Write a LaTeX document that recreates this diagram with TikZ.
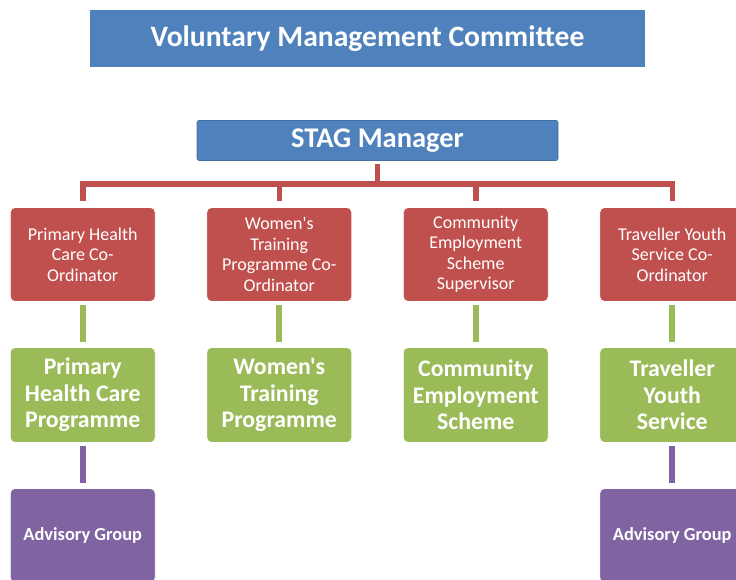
\documentclass[tikz,border=0pt]{standalone}
\usepackage{fontspec}
\setmainfont{Carlito}[Ligatures=TeXOff]
\usetikzlibrary{positioning}
\definecolor{stagblue}{HTML}{4F81BD}
\definecolor{stagred}{HTML}{C0504D}
\definecolor{staggreen}{HTML}{9BBB59}
\definecolor{stagpurple}{HTML}{8064A2}

\begin{document}
\begin{tikzpicture}[x=1pt,y=1pt,
    parent anchor=south,child anchor=north,
    bluebox/.style={fill=stagblue,text=white,inner sep=0pt},
    orgbox/.style={rounded corners=5pt,draw=white,line width=0.6pt,
      minimum width=145pt,text=white,align=center,inner sep=0pt},
    redbox/.style={orgbox,fill=stagred,minimum height=94pt,
      font=\fontsize{18}{20.5}\selectfont},
    greenbox/.style={orgbox,fill=staggreen,minimum height=95pt,
      font=\bfseries\fontsize{23.8}{26.5}\selectfont},
    purplebox/.style={orgbox,fill=stagpurple,minimum height=94pt,
      font=\bfseries\fontsize{18.4}{20}\selectfont},
    level 1/.style={sibling distance=196.5pt,level distance=114pt,
      edge from parent/.style={draw=stagred,line width=5.5pt,
        shorten <=3pt,shorten >=6pt},
      edge from parent path={(\tikzparentnode.south) -- +(0,-23pt)
        -| (\tikzchildnode.north)}},
    level 2/.style={level distance=140.5pt,
      edge from parent/.style={draw=staggreen,line width=6pt,
        shorten <=3pt,shorten >=5pt},
      edge from parent path={(\tikzparentnode.south)
        -- (\tikzchildnode.north)}},
    level 3/.style={level distance=140.5pt,
      edge from parent/.style={draw=stagpurple,line width=6pt,
        shorten <=3pt,shorten >=5pt}}]
  \useasboundingbox (0,0) rectangle (736,580);
  \clip (0,0) rectangle (736,580);
  \node[bluebox,minimum width=555pt,minimum height=57pt,
    font=\bfseries\fontsize{29.6}{32}\selectfont] (vmc) at (367.5,541.5)
    {Voluntary Management Committee};
  \node[bluebox,draw=stagblue!85!black,line width=0.6pt,rounded corners=2pt,
    minimum width=361pt,minimum height=40pt,
    font=\bfseries\fontsize{28.5}{32}\selectfont,
    below=53pt of vmc,xshift=10pt] (stag) {STAG Manager}
    child {
      node[redbox] (phcco) {Primary Health\\Care Co-\\Ordinator}
      child {
        node[greenbox] (phcprog) {Primary\\Health Care\\Programme}
        child {
          node[purplebox] (phcadvisory) {Advisory Group}
        }
      }
    }
    child {
      node[redbox] (wtpco) {Women's\\Training\\Programme Co-\\Ordinator}
      child {
        node[greenbox] (wtprog) {Women's\\Training\\Programme}
      }
    }
    child {
      node[redbox] (cessup) {Community\\Employment\\Scheme\\Supervisor}
      child {
        node[greenbox] (cescheme) {Community\\Employment\\Scheme}
      }
    }
    child {
      node[redbox] (tysco) {Traveller Youth\\Service Co-\\Ordinator}
      child {
        node[greenbox] (tyservice) {Traveller\\Youth\\Service}
        child {
          node[purplebox] (tysadvisory) {Advisory Group}
        }
      }
    };
\end{tikzpicture}
\end{document}
